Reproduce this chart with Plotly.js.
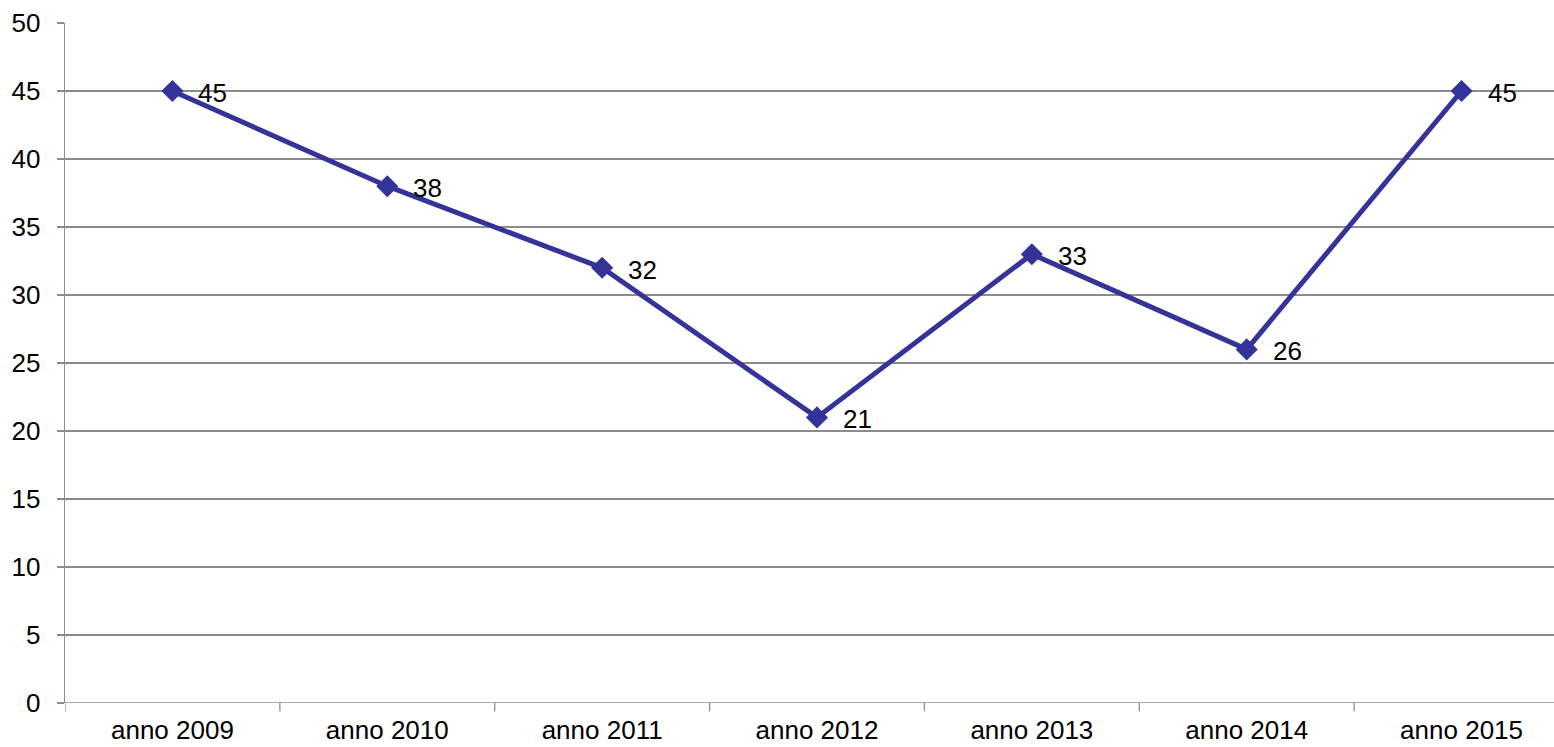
<!DOCTYPE html>
<html><head><meta charset="utf-8">
<script src="https://cdn.plot.ly/plotly-3.0.1.min.js"></script>
<style>html,body{margin:0;padding:0;overflow:hidden;background:#fff;}#chart{width:1569px;height:747px;}</style>
</head><body><div id="chart"></div>
<script>
const categories = ["anno 2009","anno 2010","anno 2011","anno 2012","anno 2013","anno 2014","anno 2015"];
const values = [45, 38, 32, 21, 33, 26, 45];
const yTicks = [0,5,10,15,20,25,30,35,40,45,50];

const FONT = 'Liberation Sans, Arial, sans-serif';
const trace = {
  type: 'scatter', mode: 'lines+markers',
  x: categories, y: values,
  line: {color: '#333399', width: 5},
  marker: {symbol: 'diamond', size: 17, color: '#333399'},
  cliponaxis: false, hoverinfo: 'none'
};
const labels = categories.map((c, i) => ({
  x: c, y: values[i], xref: 'x', yref: 'y', text: String(values[i]),
  showarrow: false, xanchor: 'left', yanchor: 'middle', xshift: 24, yshift: -2,
  font: {family: FONT, size: 26, color: '#000'}
}));
const layout = {
  width: 1569, height: 747,
  margin: {l: 65, r: 0, t: 23, b: 44},
  paper_bgcolor: '#fff', plot_bgcolor: '#fff',
  showlegend: false,
  font: {family: FONT, size: 26, color: '#000'},
  xaxis: {type: 'category', range: [-0.5, 6.5], showgrid: false, showline: false, zeroline: false,
    ticks: '', tickfont: {size: 26}, ticklabelstandoff: 9, fixedrange: true},
  yaxis: {range: [0, 50], tickvals: yTicks, showgrid: true, gridcolor: '#8c8c8c', gridwidth: 1.3,
    zeroline: false, showline: true, linecolor: '#8c8c8c', linewidth: 1.3,
    ticks: 'outside', ticklen: 7, tickcolor: '#8c8c8c', tickwidth: 1.3, ticklabelstandoff: 11,
    tickfont: {size: 26}, fixedrange: true},
  annotations: labels,
  shapes: [
    {type: 'line', xref: 'paper', yref: 'y', x0: 0, x1: 1, y0: 0, y1: 0, line: {color: '#8c8c8c', width: 1.3}}
  ].concat([0,1,2,3,4,5,6,7].map(i => ({type: 'line', xref: 'x', yref: 'paper', x0: i - 0.5, x1: i - 0.5, y0: 0, y1: -0.012, line: {color: '#8c8c8c', width: 1.3}})))
};
Plotly.newPlot('chart', [trace], layout, {displayModeBar: false, staticPlot: true});
</script></body></html>
